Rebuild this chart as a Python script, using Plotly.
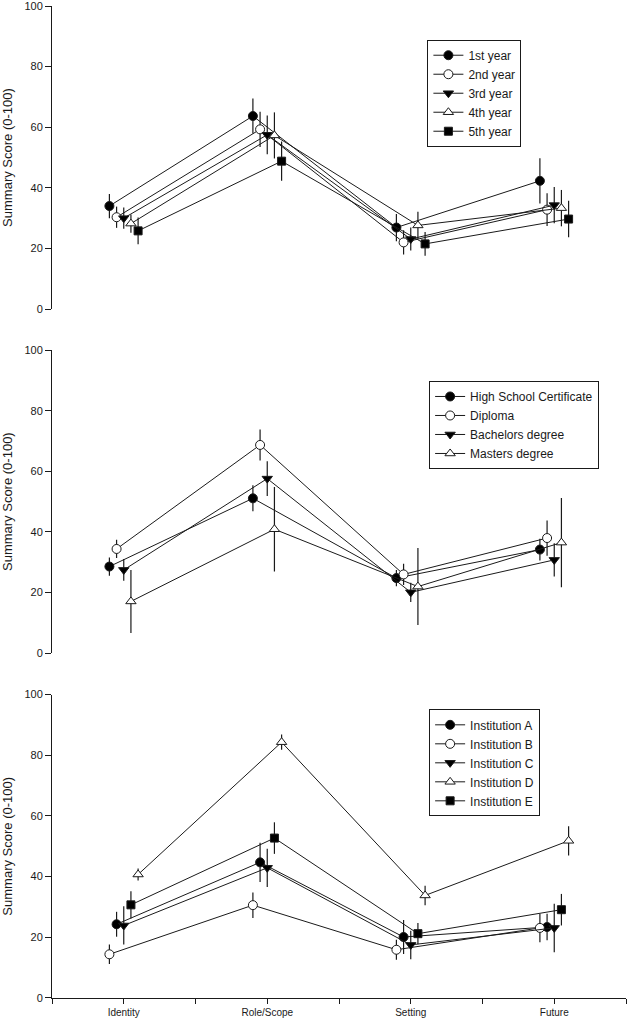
import plotly.graph_objects as go

categories = ["Identity", "Role/Scope", "Setting", "Future"]

# Panel 1: year of study
year_labels = ["1st year", "2nd year", "3rd year", "4th year", "5th year"]
year_means = [
    [34.0, 63.7, 26.9, 42.3],
    [30.3, 59.3, 22.0, 32.8],
    [30.0, 57.5, 23.1, 34.3],
    [28.2, 57.3, 27.6, 33.3],
    [25.8, 48.8, 21.5, 29.7],
]
year_err = [
    [4.0, 5.8, 4.5, 7.5],
    [3.5, 5.8, 4.0, 5.4],
    [3.5, 6.4, 3.8, 6.0],
    [3.0, 7.6, 4.5, 6.0],
    [4.4, 6.5, 3.9, 6.0],
]
year_offsets = [-0.1, -0.05, 0.0, 0.05, 0.1]

# Panel 2: highest qualification
qual_labels = ["High School Certificate", "Diploma", "Bachelors degree", "Masters degree"]
qual_means = [
    [28.6, 51.1, 24.8, 34.2],
    [34.4, 68.7, 26.0, 38.0],
    [27.5, 57.6, 20.1, 30.8],
    [17.1, 40.9, 22.0, 36.5],
]
qual_err = [
    [3.0, 4.3, 2.7, 3.6],
    [3.0, 5.1, 3.5, 5.8],
    [3.6, 5.7, 3.2, 5.5],
    [10.4, 13.9, 12.7, 14.7],
]
qual_offsets = [-0.1, -0.05, 0.0, 0.05]

# Panel 3: institution
inst_labels = ["Institution A", "Institution B", "Institution C", "Institution D", "Institution E"]
inst_means = [
    [24.3, 44.7, 20.1, 23.4],
    [14.4, 30.6, 15.9, 23.1],
    [23.9, 42.9, 17.5, 23.1],
    [40.7, 84.3, 33.8, 51.8],
    [30.7, 52.7, 21.2, 29.1],
]
inst_err = [
    [4.1, 6.5, 5.6, 4.4],
    [3.2, 4.2, 3.3, 4.7],
    [6.3, 6.3, 4.7, 8.0],
    [2.0, 2.5, 3.2, 4.8],
    [4.5, 5.2, 3.5, 5.2],
]
inst_offsets = [-0.05, -0.1, 0.0, 0.1, 0.05]

styles5 = [
    dict(symbol="circle", color="black", size=9),
    dict(symbol="circle", color="white", size=9),
    dict(symbol="triangle-down", color="black", size=9),
    dict(symbol="triangle-up", color="white", size=9),
    dict(symbol="square", color="black", size=8),
]

INK = "#1a1a1a"
FONT = "Liberation Sans, Arial, sans-serif"

fig = go.Figure()


def add_panel(labels, means, errs, offsets, xa, ya, legend):
    for i, lab in enumerate(labels):
        st = styles5[i]
        xs = [k + offsets[i] for k in range(len(categories))]
        fig.add_trace(go.Scatter(
            x=xs, y=means[i], name=lab, mode="lines+markers",
            xaxis=xa, yaxis=ya, legend=legend,
            line=dict(color=INK, width=1),
            marker=dict(symbol=st["symbol"], color=st["color"], size=st["size"],
                        line=dict(color=INK, width=1)),
            error_y=dict(type="data", array=errs[i], visible=True,
                         color=INK, thickness=1.2, width=0),
            cliponaxis=False,
        ))


add_panel(year_labels, year_means, year_err, year_offsets, "x", "y", "legend")
add_panel(qual_labels, qual_means, qual_err, qual_offsets, "x2", "y2", "legend2")
add_panel(inst_labels, inst_means, inst_err, inst_offsets, "x3", "y3", "legend3")

yax = dict(range=[0, 100], tickvals=[0, 20, 40, 60, 80, 100], showline=True,
           linecolor=INK, linewidth=1, ticks="outside", ticklen=6, tickcolor=INK,
           showgrid=False, zeroline=False, automargin=False,
           ticklabeloverflow="allow",
           tickfont=dict(family=FONT, size=11, color=INK),
           title=dict(text="Summary Score (0-100)", standoff=10,
                      font=dict(family=FONT, size=13, color=INK)))
xhidden = dict(range=[-0.5, 3.5], visible=False, showgrid=False, zeroline=False)

tv = [-0.5, 0, 0.5, 1, 1.5, 2, 2.5, 3, 3.5]
tt = ["", categories[0], "", categories[1], "", categories[2], "", categories[3], ""]

legstyle = dict(bordercolor=INK, borderwidth=1, bgcolor="white",
                font=dict(family=FONT, size=12, color=INK),
                xanchor="left", yanchor="top", tracegroupgap=0, itemwidth=30)

fig.update_layout(
    width=627, height=1020,
    margin=dict(l=52, r=1, t=6, b=22),
    paper_bgcolor="white", plot_bgcolor="white",
    font=dict(family=FONT, color=INK),
    xaxis=dict(**xhidden, anchor="y"),
    xaxis2=dict(**xhidden, anchor="y2"),
    xaxis3=dict(range=[-0.5, 3.5], anchor="y3", tickvals=tv, ticktext=tt,
                showline=True, linecolor=INK, linewidth=1, ticks="outside",
                ticklen=5, tickcolor=INK, showgrid=False, zeroline=False,
                automargin=False, ticklabeloverflow="allow",
                tickfont=dict(family=FONT, size=10, color=INK)),
    yaxis=dict(**yax, domain=[0.6945, 1.0], anchor="x"),
    yaxis2=dict(**yax, domain=[0.3475, 0.6532], anchor="x2"),
    yaxis3=dict(**yax, domain=[0.0, 0.3059], anchor="x3"),
    legend=dict(**legstyle, x=0.654, y=0.966),
    legend2=dict(**legstyle, x=0.657, y=0.622),
    legend3=dict(**legstyle, x=0.657, y=0.291),
    showlegend=True,
)

fig.write_html(
    "out.html",
    config={"displayModeBar": False},
    post_script="document.body.style.margin='0px';document.body.style.overflow='hidden';",
)
